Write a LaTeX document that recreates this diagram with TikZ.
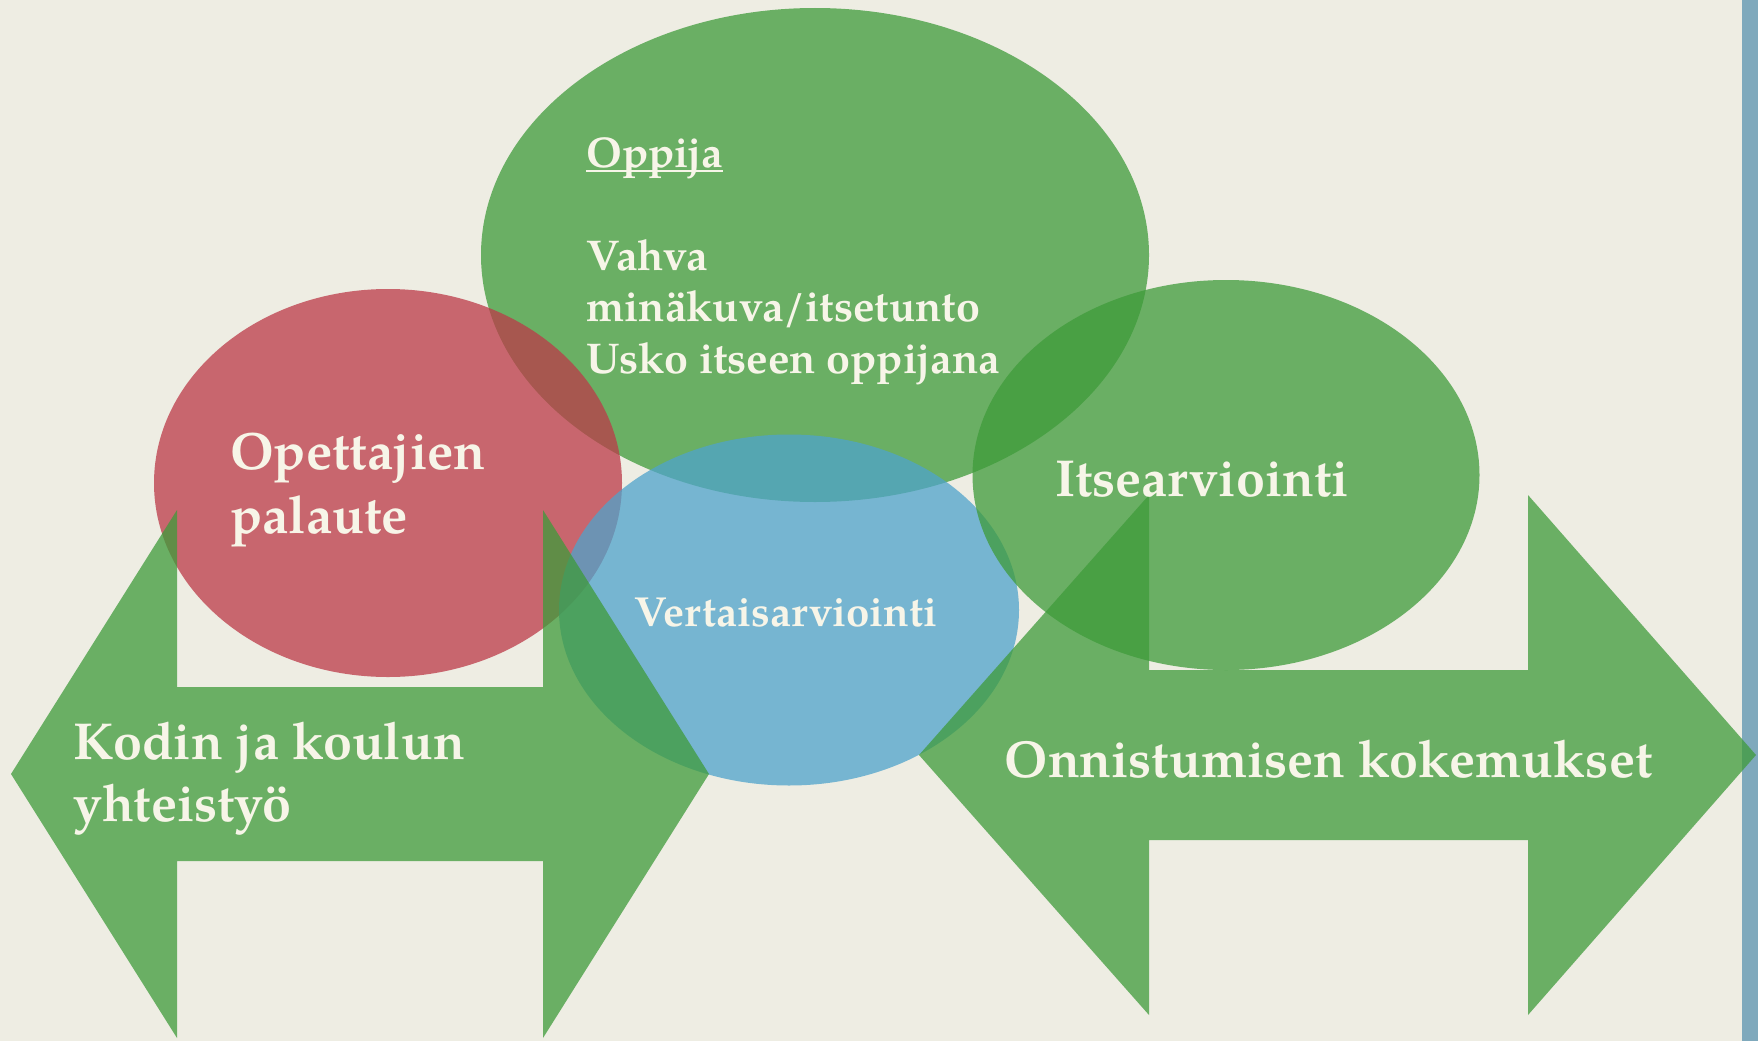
\documentclass[tikz,border=0pt]{standalone}
\usepackage{fontspec}
\setmainfont{TeX Gyre Pagella}
\usetikzlibrary{shapes.geometric}

\definecolor{paper}{HTML}{EEEDE3}
\definecolor{edge}{HTML}{7FA9BC}
\definecolor{leaf}{HTML}{3E9B3A}
\definecolor{rose}{HTML}{BC3A48}
\definecolor{sky}{HTML}{4FA3CB}
\definecolor{cream}{HTML}{F7F5E8}

\tikzset{
 blob/.style={ellipse,inner sep=0pt,fill opacity=.75,text opacity=1},
 word/.style={text=cream,font=\bfseries,align=left,inner sep=0pt}
}

\newcommand{\undl}[1]{\setbox0\hbox{#1}\rlap{\rule[-0.12em]{\wd0}{0.06em}}\box0}

\begin{document}
\begin{tikzpicture}[x=1pt,y=-1pt]

\newcommand{\dblarrow}[7] % [tipL][neckL][neckR][tipR][y][head][shaft]
{
 \fill[leaf,fill opacity=.75] (#1,#5)
   -- (#2,#5-#6) -- (#2,#5-#7) -- (#3,#5-#7) -- (#3,#5-#6)
   -- (#4,#5)
   -- (#3,#5+#6) -- (#3,#5+#7) -- (#2,#5+#7) -- (#2,#5+#6) -- cycle;
}

\fill[paper] (0,0) rectangle (1742,1041);
\fill[edge] (1742,0) rectangle (1758,1041);
\useasboundingbox (0,0) rectangle (1758,1041);

% ellipses
\node[blob,fill=leaf,minimum width=668,minimum height=494] (learner) at (815,255) {};
\node[blob,fill=rose,minimum width=468,minimum height=388] (teacher) at (388,483) {};
\node[blob,fill=sky,minimum width=460,minimum height=351] (peer) at (789,610) {};
\node[blob,fill=leaf,minimum width=507,minimum height=390] (self) at (1226,475) {};

% arrows
\dblarrow{11}{177}{543}{709}{774}{264}{87}
\dblarrow{919}{1149}{1528}{1756}{755}{260}{85}

% texts
\node[word,anchor=west,font=\bfseries\fontsize{43}{51.5}\selectfont] (learnertext) at (586,261)
 {\undl{Oppija}\\[51.5pt] Vahva\\ minäkuva/itsetunto\\ Usko itseen oppijana};
\node[word,anchor=west,font=\bfseries\fontsize{52.5}{64}\selectfont] (teachertext) at (230,490)
 {Opettajien\\ palaute};
\node[word,font=\bfseries\fontsize{42}{50}\selectfont] (peertext) at (786,613) {Vertaisarviointi};
\node[word,font=\bfseries\fontsize{52}{64}\selectfont] (selftext) at (1202,479) {Itsearviointi};
\node[word,anchor=west,font=\bfseries\fontsize{52}{62}\selectfont] (hometext) at (73,779)
 {Kodin ja koulun\\ yhteistyö};
\node[word,font=\bfseries\fontsize{52}{64}\selectfont] (successtext) at (1328.5,759) {Onnistumisen kokemukset};

\end{tikzpicture}
\end{document}
